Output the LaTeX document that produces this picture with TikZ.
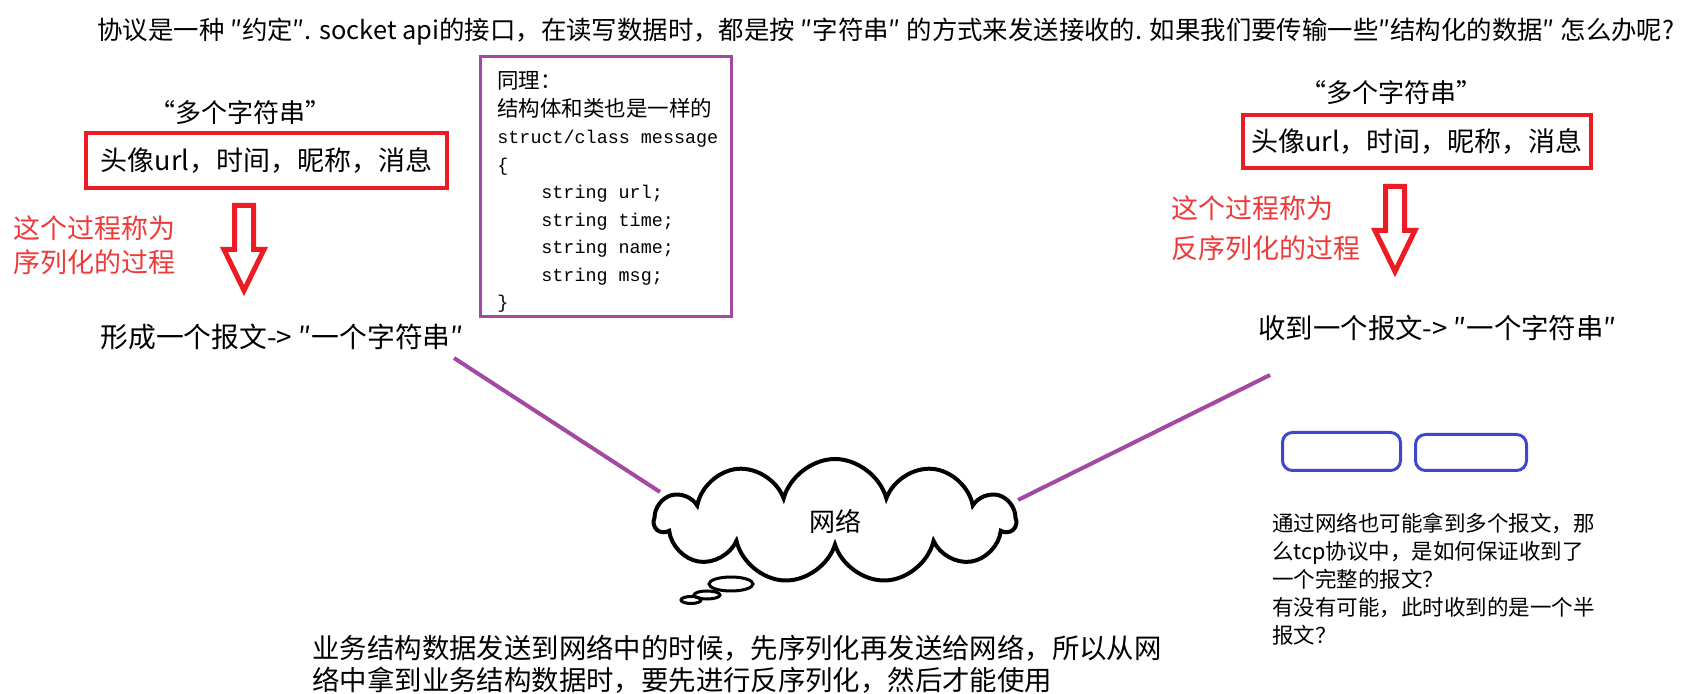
\documentclass[tikz,border=0pt]{standalone}
\usepackage{fontspec}
\setmainfont{Noto Sans CJK SC}
\newfontfamily\codefont{Liberation Mono}
\usetikzlibrary{shapes.symbols,shapes.geometric}
\definecolor{paintred}{HTML}{ED1C24}
\definecolor{tagred}{HTML}{EE3A3A}
\definecolor{linkpurple}{HTML}{A349A4}
\definecolor{pktblue}{HTML}{3F48CC}
\newcommand\fsz[2]{\fontsize{#1}{#2}\selectfont}
\newcommand\codeln[1]{{\codefont\fontsize{9.2pt}{13.75pt}\selectfont #1}}

\begin{document}
\begin{tikzpicture}[x=0.5pt, y=-0.5pt, inner sep=0pt,
  txt/.style={anchor=west, align=left, inner sep=0pt},
  quote/.style={font=\fsz{13pt}{16pt}},
  rec/.style={draw=paintred, line width=2.25pt, font=\fsz{13.5pt}{16pt}},
  redtag/.style={txt, text=tagred},
  hollow/.style={draw=paintred, line width=2.5pt, line join=miter},
  link/.style={draw=linkpurple, line width=2pt},
  pkt/.style={draw=pktblue, line width=1.5pt, rounded corners=5pt},
  bubble/.style={ellipse, draw, line width=1.5pt}]
\useasboundingbox[fill=white] (0,0) rectangle (1688,694);

% question on top
\node[txt, font=\fsz{12.7pt}{15pt}] (head) at (97,32) {协议是一种 ″约定″. socket api的接口，在读写数据时，都是按 ″字符串″ 的方式来发送接收的. 如果我们要传输一些″结构化的数据″ 怎么办呢?};

% sender
\node[quote] (lq) at (240,113) {“多个字符串”};
\node[rec, minimum width=180.5pt, minimum height=27.5pt] (lrec) at (266.5,160.5) {头像url，时间，昵称，消息};
\node[redtag, font=\fsz{13.5pt}{17pt}] (ltag) at (13,245) {这个过程称为\\序列化的过程};
\node[txt, font=\fsz{13.9pt}{16pt}] (lmsg) at (100,337) {形成一个报文-> ″一个字符串″};

% receiver
\node[quote] (rq) at (1391,93) {“多个字符串”};
\node[rec, minimum width=174pt, minimum height=26.5pt] (rrec) at (1417,141.5) {头像url，时间，昵称，消息};
\node[redtag, font=\fsz{13.5pt}{20pt}] (rtag) at (1171,228) {这个过程称为\\反序列化的过程};
\node[txt, font=\fsz{13.7pt}{16pt}] (rmsg) at (1258,328) {收到一个报文-> ″一个字符串″};

% hollow arrows
\foreach \cx/\cy in {244/205.5, 1395/186.5}
  \draw[hollow] (\cx,\cy) +(-9.5,0) -- +(9.5,0) -- +(9.5,44) -- +(20,44) -- +(0,85) -- +(-20,44) -- +(-9.5,44) -- cycle;

% struct box
\node[draw=linkpurple, line width=1.5pt, minimum width=125.5pt, minimum height=130pt] (sbox) at (605.5,187) {};
\node[txt, font=\fsz{10.75pt}{13.75pt}] (scode) at (497,192) {同理：\\结构体和类也是一样的\\\codeln{struct/class message}\\\codeln{\{}\\\codeln{\hspace*{22pt}string url;}\\\codeln{\hspace*{22pt}string time;}\\\codeln{\hspace*{22pt}string name;}\\\codeln{\hspace*{22pt}string msg;}\\\codeln{\}}};

% network
\node[cloud, draw, line width=2pt, cloud puffs=11, aspect=2.8, minimum width=180pt, minimum height=62pt, font=\fsz{13pt}{15pt}] (net) at (835,521) {网络};
\node[bubble, minimum width=22pt, minimum height=7pt] (b1) at (731,584) {};
\node[bubble, minimum width=13pt, minimum height=4pt] (b2) at (707,595) {};
\node[bubble, minimum width=10pt, minimum height=3.5pt] (b3) at (691,600) {};
\coordinate (lend) at (454,358);
\coordinate (netl) at (660,492);
\coordinate (rend) at (1270,375);
\coordinate (netr) at (1018,500);
\draw[link] (lend) -- (netl);
\draw[link] (rend) -- (netr);

% packets
\node[pkt, minimum width=59pt, minimum height=19pt] (pkta) at (1341.5,451.5) {};
\node[pkt, minimum width=55.5pt, minimum height=18pt] (pktb) at (1471,452.5) {};
\node[txt, font=\fsz{10.75pt}{14pt}] (rnote) at (1272,579) {通过网络也可能拿到多个报文，那\\么tcp协议中，是如何保证收到了\\一个完整的报文？\\有没有可能，此时收到的是一个半\\报文？};

% footer
\node[txt, font=\fsz{13.7pt}{16pt}] (foot) at (312,664) {业务结构数据发送到网络中的时候，先序列化再发送给网络，所以从网\\络中拿到业务结构数据时，要先进行反序列化，然后才能使用};
\end{tikzpicture}
\end{document}
